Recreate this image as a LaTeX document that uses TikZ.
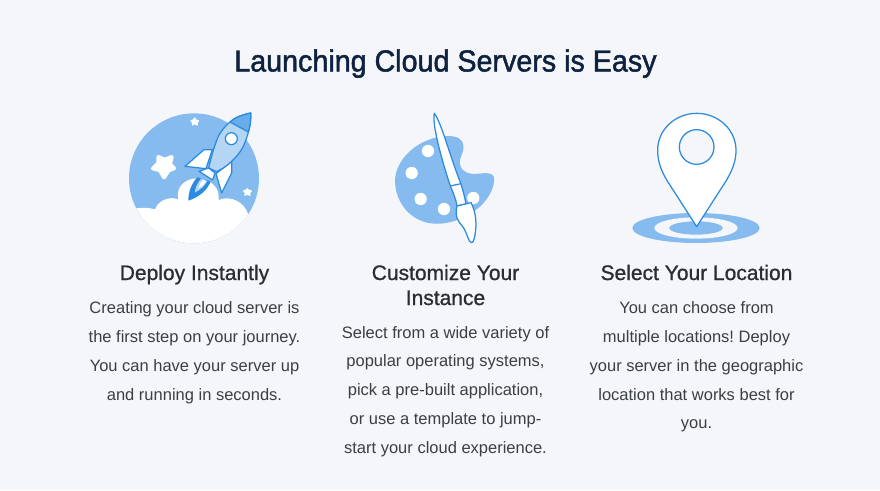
\documentclass[tikz,border=0pt]{standalone}
\usepackage{fontspec}
\setmainfont{Liberation Sans}
\newfontfamily\medf[FakeBold=0.9]{Liberation Sans}
\newfontfamily\titf[FakeBold=1.5,FakeStretch=0.94]{Liberation Sans}
\frenchspacing
\definecolor{bgc}{HTML}{F5F6FA}
\definecolor{lb}{HTML}{85BBEE}
\definecolor{mb}{HTML}{B5D5F4}
\definecolor{nb}{HTML}{66ADEB}
\definecolor{db}{HTML}{2A8BE0}
\definecolor{titlec}{HTML}{0E2240}
\definecolor{headc}{HTML}{2A2E33}
\definecolor{bodyc}{HTML}{3A3F45}
\tikzset{
 titlet/.style={text=titlec,font=\titf\frenchspacing\fontsize{30.5}{32}\selectfont,anchor=base,inner sep=0pt,yshift=-10.5pt},
 headt/.style={text=headc,font=\medf\frenchspacing\fontsize{21}{24}\selectfont,anchor=base,inner sep=0pt,yshift=-7pt},
 bodyt/.style={text=bodyc,font=\frenchspacing\fontsize{16.5}{20}\selectfont,anchor=base,inner sep=0pt,yshift=-5.5pt},
 ln/.style={draw=db,line width=1.25pt,line join=round},
 zl/.style={x=0.3333pt,y=-0.3333pt},
}
\begin{document}
\begin{tikzpicture}[x=1pt,y=-1pt]
\path[use as bounding box,fill=bgc] (0,0) rectangle (880,490);
\node[titlet] (title) at (445.5,61) {Launching Cloud Servers is Easy};
% rocket icon
\begin{scope}[shift={(120,100)},zl]
\fill[lb] (222,235) circle[radius=195];
\begin{scope}
\clip (222,235) circle[radius=195];
\fill[white] (30,430) -- (30,328) .. controls (60,322) and (85,322) .. (105,328)
 .. controls (115,300) and (150,288) .. (175,298)
 .. controls (165,255) and (205,232) .. (235,236)
 .. controls (275,238) and (300,265) .. (296,300)
 .. controls (330,285) and (375,305) .. (385,345) -- (430,430) -- cycle;
\end{scope}
% stars
\filldraw[white,line width=4pt,line join=round] (115,171) -- (134,179) -- (155,171) -- (150,192) -- (162,205) -- (146,211) -- (132,232) -- (120,211) -- (99,205) -- (115,190) -- cycle;
\filldraw[white,line width=1.2pt,line join=round] (224,54) -- (228,60) -- (236,62) -- (231,68) -- (232,75) -- (224,71) -- (217,75) -- (218,68) -- (213,62) -- (220,60) -- cycle;
\filldraw[white,line width=1.2pt,line join=round] (382,266) -- (386,271) -- (394,273) -- (389,279) -- (390,286) -- (382,282) -- (375,286) -- (376,279) -- (371,273) -- (378,271) -- cycle;
% flame
\fill[db] (205,302) .. controls (205,275) and (215,250) .. (232,232) -- (272,244) .. controls (262,272) and (235,292) .. (205,302) -- cycle;
\fill[mb] (224,278) .. controls (226,262) and (233,248) .. (243,236) -- (262,243) .. controls (255,258) and (240,270) .. (224,278) -- cycle;
\fill[white] (236,265) .. controls (238,254) and (243,245) .. (250,238) -- (258,244) .. controls (253,253) and (246,260) .. (236,265) -- cycle;
% fins
\filldraw[ln,fill=white] (252,149) -- (277,149) -- (258,206) -- (195,199) -- cycle;
\filldraw[ln,fill=white] (335,184) -- (335,219) -- (305,279) -- (288,221) -- cycle;
% body
\filldraw[ln,fill=mb] (392,39) .. controls (365,45) and (345,52) .. (330,66) .. controls (312,82) and (302,95) .. (295,109) .. controls (282,140) and (274,170) .. (266,204) -- (290,215) .. controls (310,205) and (322,197) .. (335,184) .. controls (350,170) and (362,155) .. (370,139) .. controls (385,105) and (394,70) .. (392,39) -- cycle;
\filldraw[ln,fill=nb] (392,39) .. controls (365,45) and (345,52) .. (330,66) -- (385,96) .. controls (390,78) and (394,60) .. (392,39) -- cycle;
\filldraw[ln,fill=white] (334,116) circle[radius=18];
% nozzle
\filldraw[ln,fill=white] (237,214) -- (266,204) -- (285,219) -- (278,240) -- cycle;
\end{scope}
% palette icon
\begin{scope}[shift={(385,100)},zl]
\fill[lb] (130,120) .. controls (165,105) and (205,105) .. (222,115) .. controls (240,125) and (238,150) .. (228,170) .. controls (218,195) and (230,220) .. (265,222) .. controls (290,222) and (320,212) .. (327,232) .. controls (332,262) and (305,310) .. (265,335) .. controls (225,362) and (170,382) .. (115,365) .. controls (60,345) and (30,295) .. (30,240) .. controls (32,190) and (75,140) .. (130,120) -- cycle;
\fill[white] (129,153) circle[radius=18.5] (80,219) circle[radius=18.5] (107,297) circle[radius=18.5] (177,327) circle[radius=18.5] (265,294) circle[radius=18.5];
\filldraw[ln,fill=white] (148,40) .. controls (170,70) and (195,170) .. (228,252) .. controls (235,275) and (240,295) .. (243,312) -- (216,318) .. controls (212,295) and (205,280) .. (196,258) .. controls (170,180) and (140,70) .. (148,40) -- cycle;
\draw[ln] (196,258) -- (228,251);
\filldraw[ln,fill=white] (216,318) -- (258,308) .. controls (270,330) and (275,360) .. (272,390) .. controls (270,410) and (266,428) .. (260,428) .. controls (250,428) and (248,400) .. (232,378) .. controls (220,365) and (208,350) .. (216,318) -- cycle;
\end{scope}
% pin icon
\begin{scope}[shift={(625,100)},zl]
\fill[lb] (213,384) ellipse[x radius=191,y radius=45];
\fill[bgc] (213,384) ellipse[x radius=125,y radius=32];
\fill[lb] (213,384) ellipse[x radius=80,y radius=20];
\filldraw[ln,fill=white] (215,380) -- (125,240) .. controls (105,205) and (98,180) .. (98,150) .. controls (98,90) and (150,40) .. (215,40) .. controls (280,40) and (333,90) .. (333,150) .. controls (333,180) and (325,205) .. (305,240) -- cycle;
\filldraw[ln,fill=bgc] (215,141) circle[radius=52];
\end{scope}
% column 1
\node[headt] (h1) at (194.5,273) {Deploy Instantly};
\node[bodyt] (a1) at (194.5,308) {Creating your cloud server is};
\node[bodyt] (a2) at (194.5,337) {the first step on your journey.};
\node[bodyt] (a3) at (194.5,366) {You can have your server up};
\node[bodyt] (a4) at (194.5,395) {and running in seconds.};
% column 2
\node[headt] (h2) at (445.5,273) {Customize Your};
\node[headt] (h3) at (445.5,298) {Instance};
\node[bodyt] (b1) at (445.5,333) {Select from a wide variety of};
\node[bodyt] (b2) at (445.5,361) {popular operating systems,};
\node[bodyt] (b3) at (445.5,390) {pick a pre-built application,};
\node[bodyt] (b4) at (445.5,419) {or use a template to jump-};
\node[bodyt] (b5) at (445.5,448) {start your cloud experience.};
% column 3
\node[headt] (h4) at (696.5,273) {Select Your Location};
\node[bodyt] (c1) at (696.5,308) {You can choose from};
\node[bodyt] (c2) at (696.5,337) {multiple locations! Deploy};
\node[bodyt] (c3) at (696.5,366) {your server in the geographic};
\node[bodyt] (c4) at (696.5,395) {location that works best for};
\node[bodyt] (c5) at (696.5,423) {you.};
\end{tikzpicture}
\end{document}
